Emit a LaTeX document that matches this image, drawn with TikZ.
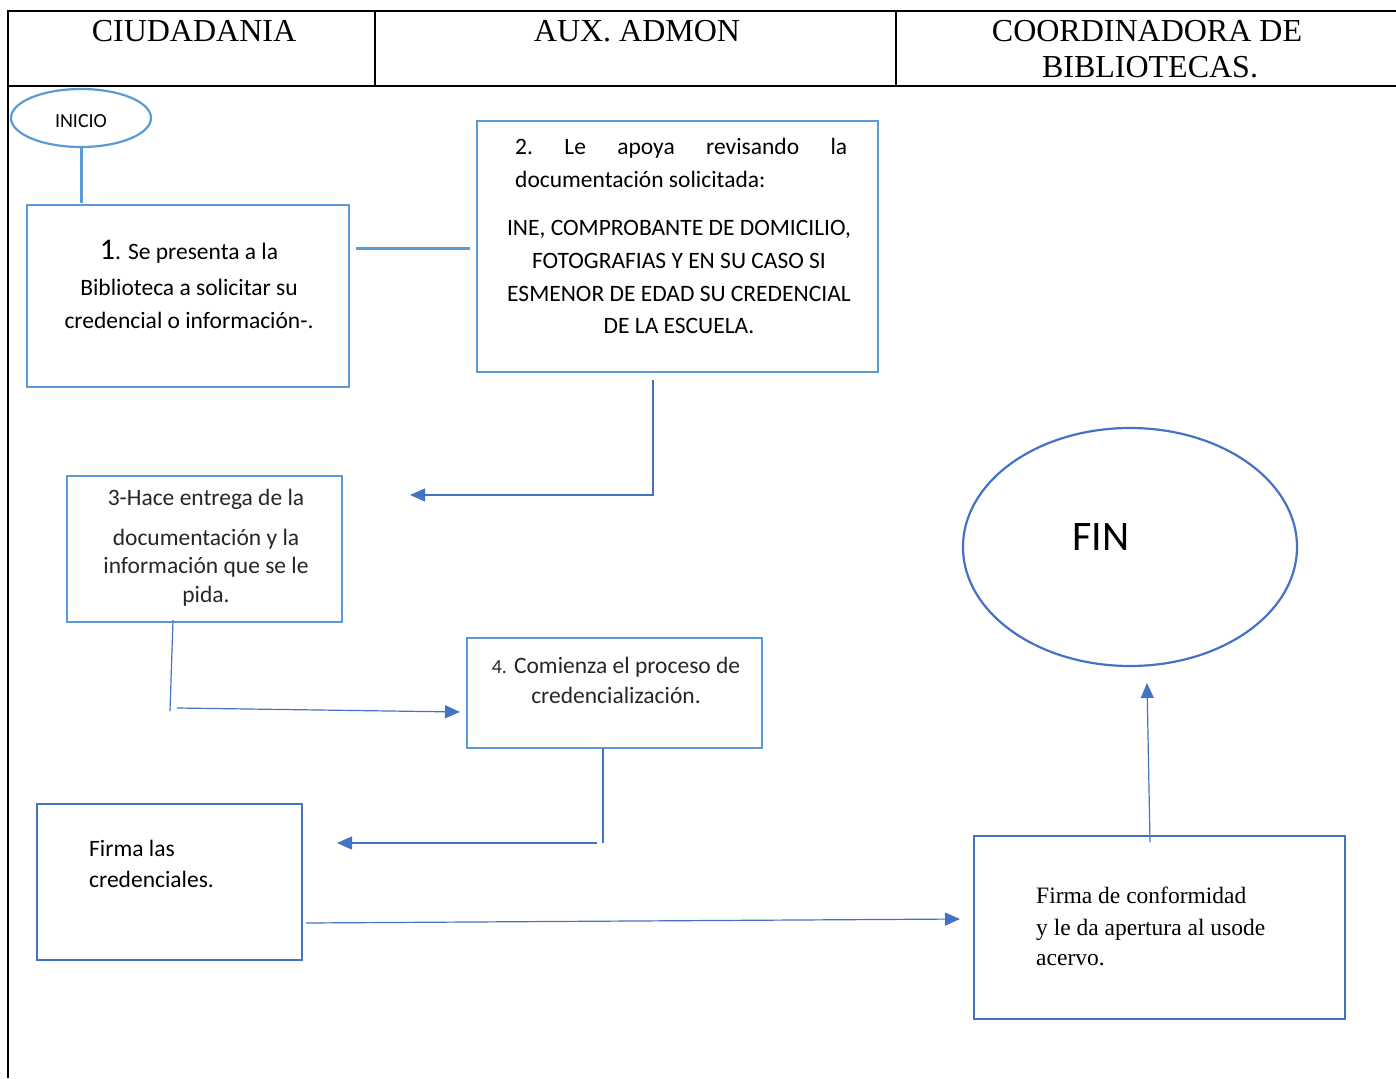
\documentclass[tikz,border=0pt]{standalone}
\usepackage{fontspec}
\setmainfont{Carlito}
\newfontfamily\timesfont{Liberation Serif}
\usetikzlibrary{arrows.meta,shapes.geometric}
\definecolor{lightblue}{HTML}{5B9BD5}
\definecolor{darkblue}{HTML}{4472C4}
\begin{document}
\begin{tikzpicture}[x=1pt,y=-1pt,
  frame/.style={line width=1.8pt,black},
  lbox/.style={draw=lightblue,line width=2.4pt,rectangle,inner sep=0pt},
  dbox/.style={draw=darkblue,line width=2.4pt,rectangle,inner sep=0pt},
  oval/.style={ellipse,inner sep=0pt,line width=2.2pt},
  link/.style={draw=darkblue,line width=1.2pt},
  heavylink/.style={draw=lightblue,line width=3pt},
  arrowlink/.style={link,-{Triangle[length=15pt,width=13pt]}},
  body/.style={font=\fontsize{23.5}{32}\selectfont,inner sep=0pt,anchor=base},
  bodyleft/.style={body,anchor=base west},
  head/.style={font=\timesfont\fontsize{32}{36}\selectfont,inner sep=0pt,anchor=base},
  serifleft/.style={font=\timesfont\fontsize{23.5}{30}\selectfont,inner sep=0pt,anchor=base west}
]
\useasboundingbox (0,0) rectangle (1396,1078);

% swimlane frame
\draw[frame] (8,1078) -- (8,11) -- (1396,11);
\draw[frame] (8,86) -- (1396,86);
\draw[frame] (375,11) -- (375,86);
\draw[frame] (896,11) -- (896,86);

% lane titles
\node[head] (h1) at (194,42) {CIUDADANIA};
\node[head] (h2) at (637,42) {AUX. ADMON};
\node[head] (h3a) at (1147,42) {COORDINADORA DE};
\node[head] (h3b) at (1150,78) {BIBLIOTECAS.};

% start
\node[oval,draw=lightblue,minimum width=140pt,minimum height=58pt] (inicio) at (81,118) {};
\node[font=\fontsize{20}{24}\selectfont,inner sep=0pt] (tinicio) at (81,121) {INICIO};

% step 1
\node[lbox,minimum width=322pt,minimum height=182pt] (b1) at (188,296) {};
\node[body] (t1a) at (189,259) {{\fontsize{30}{32}\selectfont 1}. Se presenta a la};
\node[body] (t1b) at (189,295) {Biblioteca a solicitar su};
\node[body] (t1c) at (189,328) {credencial o información-.};

% step 2
\node[lbox,minimum width=401pt,minimum height=251pt] (b2) at (677.5,246.5) {};
\node[bodyleft] (t2a) at (515,155) {\makebox[332pt][s]{2.\hfill Le\hfill apoya\hfill revisando\hfill la}};
\node[bodyleft] (t2b) at (515,187) {documentación solicitada:};
\node[body] (t2c) at (679,235) {INE, COMPROBANTE DE DOMICILIO,};
\node[body] (t2d) at (679,268) {FOTOGRAFIAS Y EN SU CASO SI};
\node[body] (t2e) at (679,301) {ESMENOR DE EDAD SU CREDENCIAL};
\node[body] (t2f) at (679,333) {DE LA ESCUELA.};

% step 3
\node[lbox,minimum width=275pt,minimum height=146pt] (b3) at (204.5,549) {};
\node[body,text=black!85] (t3a) at (206,505) {3-Hace entrega de la};
\node[body,text=black!85] (t3b) at (206,545) {documentación y la};
\node[body,text=black!85] (t3c) at (206,573) {información que se le};
\node[body,text=black!85] (t3d) at (206,602) {pida.};

% step 4
\node[lbox,minimum width=295pt,minimum height=110pt] (b4) at (614.5,693) {};
\node[body,text=black!85] (t4a) at (616,673) {{\fontsize{20}{24}\selectfont 4.} Comienza el proceso de};
\node[body,text=black!85] (t4b) at (616,703) {credencialización.};

% step 5
\node[dbox,minimum width=265pt,minimum height=156pt] (b5) at (169.5,882) {};
\node[bodyleft] (t5a) at (89,856) {Firma las};
\node[bodyleft] (t5b) at (89,887) {credenciales.};

% step 6
\node[dbox,minimum width=371pt,minimum height=183pt] (b6) at (1159.5,927.5) {};
\node[serifleft] (t6a) at (1036,903) {Firma de conformidad};
\node[serifleft] (t6b) at (1036,935) {y le da apertura al usode};
\node[serifleft] (t6c) at (1036,965) {acervo.};

% end
\node[oval,draw=darkblue,minimum width=334pt,minimum height=238pt] (fin) at (1130,547) {};
\node[font=\fontsize{42}{48}\selectfont,inner sep=0pt] (tfin) at (1101,537) {FIN};

% connector end points
\coordinate (c0a) at (81,147);
\coordinate (c0b) at (81,203);
\coordinate (c1a) at (356,248);
\coordinate (c1b) at (470,248);
\coordinate (c2a) at (653,380);
\coordinate (c2b) at (653,495);
\coordinate (c2c) at (410,495);
\coordinate (c3a) at (173,620);
\coordinate (c3b) at (170,711);
\coordinate (c3c) at (177,708);
\coordinate (c3d) at (460,712);
\coordinate (c4a) at (603,748);
\coordinate (c4b) at (603,843);
\coordinate (c4c) at (597,843);
\coordinate (c4d) at (337,843);
\coordinate (c5a) at (306,923);
\coordinate (c5b) at (960,919);
\coordinate (c6a) at (1150,842);
\coordinate (c6b) at (1147,683);

% connectors
\draw[heavylink] (c0a) -- (c0b);
\draw[heavylink] (c1a) -- (c1b);
\draw[arrowlink] (c2a) -- (c2b) -- (c2c);
\draw[link] (c3a) -- (c3b);
\draw[arrowlink] (c3c) -- (c3d);
\draw[link] (c4a) -- (c4b);
\draw[arrowlink] (c4c) -- (c4d);
\draw[arrowlink] (c5a) -- (c5b);
\draw[arrowlink] (c6a) -- (c6b);
\end{tikzpicture}
\end{document}
